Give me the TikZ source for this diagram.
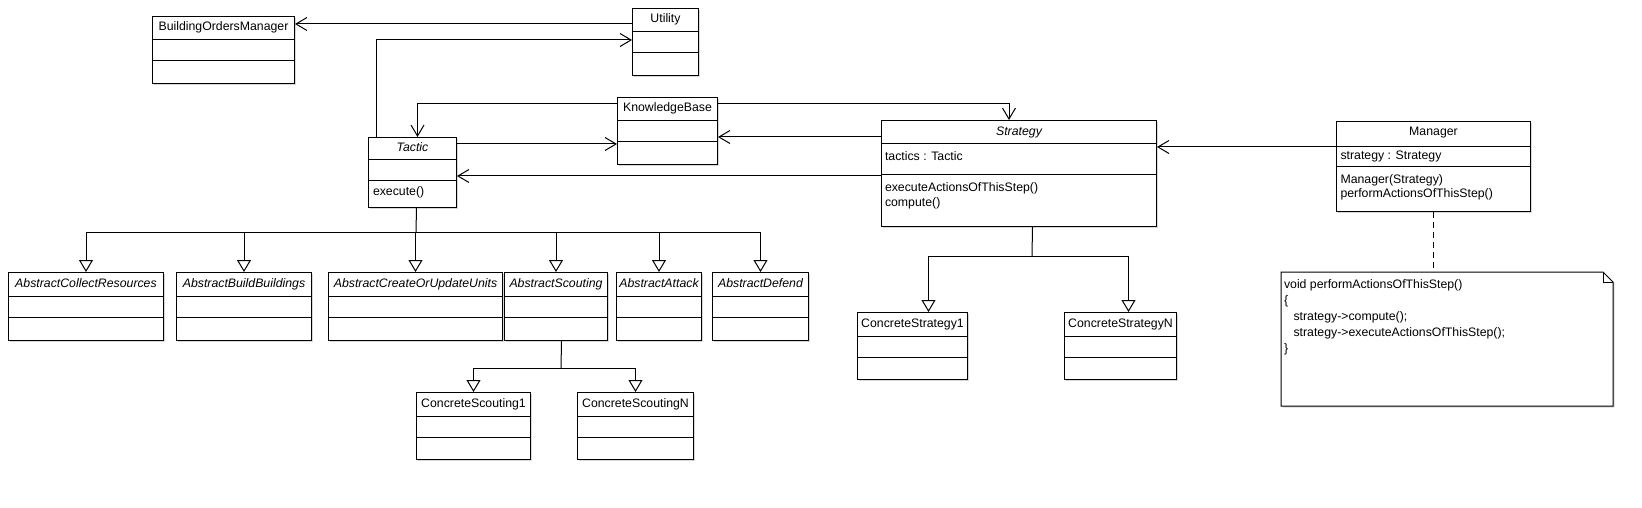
\documentclass[tikz,border=0pt]{standalone}
\usepackage{fontspec}
\setmainfont{Liberation Sans}
\usetikzlibrary{arrows.meta,calc,shadows}
\newcommand{\umlfont}{\fontsize{12.3}{15}\selectfont}
\tikzset{
  cls/.style={draw, fill=white, line width=1pt, anchor=north west, inner sep=0pt,
    drop shadow={shadow xshift=1.5pt, shadow yshift=-1.5pt, opacity=0.3}},
  assoc/.style={line width=1pt, -{Straight Barb[length=11pt, width=13pt]}},
  gen/.style={line width=1pt, -{Triangle[open, length=12pt, width=14pt]}},
  ctitle/.style={anchor=base, inner sep=0pt, font=\umlfont},
  member/.style={anchor=base west, inner sep=0pt, font=\umlfont},
}
\begin{document}
\begin{tikzpicture}[x=1pt, y=-1pt, line width=1pt]
    \fill[white] (0,0) rectangle (1642,508);
    \useasboundingbox (0,0) rectangle (1642,508);

    % 普通类
    \foreach \n/\t/\xa/\xb/\ya in {bom/BuildingOrdersManager/152/294/16, util/Utility/632/698/8,
        kb/KnowledgeBase/617/717/97, cs1/ConcreteScouting1/416/530/392, csn/ConcreteScoutingN/577/693/392,
        cst1/ConcreteStrategy1/857/967/312, cstn/ConcreteStrategyN/1064/1176/312}
    {
        \node[cls, minimum width=\xb-\xa, minimum height=67] (\n) at (\xa,\ya) {};
        \node[ctitle] (\n-t) at ($(\n.north)+(0,15)$) {\t};
        \draw ([yshift=-24]\n.north west) -- ([yshift=-24]\n.north east);
        \draw ([yshift=-45]\n.north west) -- ([yshift=-45]\n.north east);
    }

    % 抽象类
    \foreach \n/\t/\xa/\xb in {acr/AbstractCollectResources/8/163, abb/AbstractBuildBuildings/176/311,
        acu/AbstractCreateOrUpdateUnits/328/502, asc/AbstractScouting/504/607,
        aat/AbstractAttack/616/701, ade/AbstractDefend/712/808}
    {
        \node[cls, minimum width=\xb-\xa, minimum height=68] (\n) at (\xa,272) {};
        \node[ctitle, font=\umlfont\itshape] (\n-t) at ($(\n.north)+(0,15.5)$) {\t};
        \draw ([yshift=-24]\n.north west) -- ([yshift=-24]\n.north east);
        \draw ([yshift=-45]\n.north west) -- ([yshift=-45]\n.north east);
    }

    % Tactic
    \node[cls, minimum width=88, minimum height=70] (tactic) at (368,137) {};
    \node[ctitle, font=\umlfont\itshape] (tactic-t) at ($(tactic.north)+(0,15)$) {Tactic};
    \draw ([yshift=-23]tactic.north west) -- ([yshift=-23]tactic.north east);
    \draw ([yshift=-44]tactic.north west) -- ([yshift=-44]tactic.north east);
    \node[member] (tactic-op) at ($(tactic.north west)+(4.5,58.5)$) {execute()};

    % Strategy
    \node[cls, minimum width=275, minimum height=106] (strategy) at (881,120) {};
    \node[ctitle, font=\umlfont\itshape] (strategy-t) at ($(strategy.north)+(0,15.5)$) {Strategy};
    \draw ([yshift=-24]strategy.north west) -- ([yshift=-24]strategy.north east);
    \draw ([yshift=-55]strategy.north west) -- ([yshift=-55]strategy.north east);
    \node[member] (strategy-at) at ($(strategy.north west)+(3.5,40.5)$) {tactics : Tactic};
    \node[member] (strategy-op1) at ($(strategy.north west)+(3.5,71)$) {executeActionsOfThisStep()};
    \node[member] (strategy-op2) at ($(strategy.north west)+(3.5,86)$) {compute()};

    % Manager
    \node[cls, minimum width=194, minimum height=90] (manager) at (1336,121) {};
    \node[ctitle] (manager-t) at ($(manager.north)+(0,15)$) {Manager};
    \draw ([yshift=-26]manager.north west) -- ([yshift=-26]manager.north east);
    \draw ([yshift=-46]manager.north west) -- ([yshift=-46]manager.north east);
    \node[member] (manager-at) at ($(manager.north west)+(4,38.5)$) {strategy : Strategy};
    \node[member] (manager-op1) at ($(manager.north west)+(4,63)$) {Manager(Strategy)};
    \node[member] (manager-op2) at ($(manager.north west)+(4,76.5)$) {performActionsOfThisStep()};

    % 注释
    \node[anchor=north west, minimum width=331, minimum height=133, inner sep=0pt] (note) at (1281,272) {};
    \draw[fill=white, drop shadow={shadow xshift=1.5pt, shadow yshift=-1.5pt, opacity=0.3}]
        (note.north west) -- ([xshift=-10]note.north east) -- ([yshift=-10]note.north east)
        -- (note.south east) -- (note.south west) -- cycle;
    \draw ([xshift=-10]note.north east) |- ([yshift=-10]note.north east);
    \node[member] (note-l1) at ($(note.north west)+(2.5,16.5)$) {void performActionsOfThisStep()};
    \node[member] (note-l2) at ($(note.north west)+(2.5,32.5)$) {\{};
    \node[member] (note-l3) at ($(note.north west)+(12,48.5)$) {strategy->compute();};
    \node[member] (note-l4) at ($(note.north west)+(12,64.5)$) {strategy->executeActionsOfThisStep();};
    \node[member] (note-l5) at ($(note.north west)+(2.5,80.5)$) {\}};
    \draw[dash pattern=on 6pt off 4pt] (manager.south) -- (manager.south |- note.north);

    % 关联
    \draw[assoc] ([yshift=-16]util.north west) -- ([yshift=-8]bom.north east);
    \draw[assoc] ([xshift=8]tactic.north west) |- ([yshift=-32]util.north west);
    \draw[assoc] ([yshift=-7]kb.north west) -| ([xshift=5]tactic.north);
    \draw[assoc] ([yshift=-7]kb.north east) -| ([xshift=-10]strategy.north);
    \draw[assoc] ([yshift=-7]tactic.north east) -- ([yshift=-47]kb.north west);
    \draw[assoc] ([yshift=-17]strategy.north west) -- ([yshift=-40]kb.north east);
    \draw[assoc] ([yshift=-56]strategy.north west) -- ([yshift=-39]tactic.north east);
    \draw[assoc] ([yshift=-26]manager.north west) -- ([yshift=-27]strategy.north east);

    % 继承
    \coordinate (tj) at (416,232);
    \draw ([xshift=4]tactic.south) -- (tj);
    \foreach \n in {acr,abb,acu,asc,aat,ade}
        \draw[gen] (tj) -| (\n.north);

    \coordinate (sj) at (561,368);
    \draw ([xshift=5.5]asc.south) -- (sj);
    \foreach \n in {cs1,csn}
        \draw[gen] (sj) -| (\n.north);

    \coordinate (stj) at (1032,256);
    \draw ([xshift=13.5]strategy.south) -- (stj);
    \draw[gen] (stj) -| ([xshift=16]cst1.north);
    \draw[gen] (stj) -| ([xshift=8]cstn.north);
\end{tikzpicture}
\end{document}
